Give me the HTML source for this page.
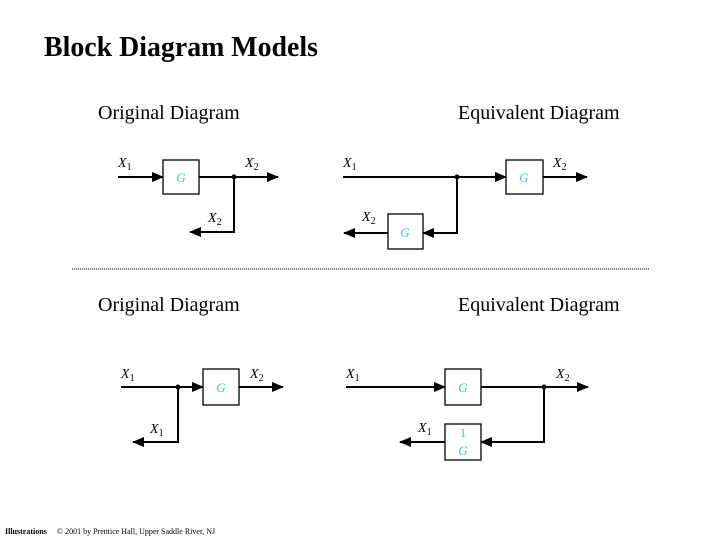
<!DOCTYPE html>
<html><head><style>
body{margin:0;background:#fff;}
svg{display:block;}
text{font-family:"Liberation Serif",serif;}
.l{font-style:italic;font-size:14px;fill:#000;}
.s{font-size:10px;font-style:normal;}
.g{font-style:italic;font-size:13px;fill:#33cccc;}
</style></head><body>
<svg width="720" height="540" viewBox="0 0 720 540" xmlns="http://www.w3.org/2000/svg">
<defs><marker id="a" markerWidth="12" markerHeight="10" refX="11" refY="5" orient="auto" markerUnits="userSpaceOnUse"><path d="M0,0 L12,5 L0,10 z" fill="#000"/></marker></defs>
<text x="44" y="56" font-size="28" font-weight="bold" textLength="274" lengthAdjust="spacingAndGlyphs">Block Diagram Models</text>
<text x="98" y="119" font-size="20">Original Diagram</text>
<text x="458" y="119" font-size="20">Equivalent Diagram</text>
<text x="98" y="311" font-size="20">Original Diagram</text>
<text x="458" y="311" font-size="20">Equivalent Diagram</text>
<line x1="72" y1="269" x2="650" y2="269" stroke="#000" stroke-width="1" stroke-dasharray="1,1"/>
<g stroke="#000" stroke-width="2" fill="none">
<line x1="118" y1="177" x2="163" y2="177" marker-end="url(#a)"/>
<line x1="199" y1="177" x2="278" y2="177" marker-end="url(#a)"/>
<polyline points="234,177 234,232 190,232" marker-end="url(#a)"/>
<line x1="343" y1="177" x2="506" y2="177" marker-end="url(#a)"/>
<line x1="543" y1="177" x2="587" y2="177" marker-end="url(#a)"/>
<polyline points="457,177 457,233 423,233" marker-end="url(#a)"/>
<line x1="388" y1="233" x2="344" y2="233" marker-end="url(#a)"/>
<line x1="121" y1="387" x2="203" y2="387" marker-end="url(#a)"/>
<line x1="239" y1="387" x2="283" y2="387" marker-end="url(#a)"/>
<polyline points="178,387 178,442 133,442" marker-end="url(#a)"/>
<line x1="346" y1="387" x2="445" y2="387" marker-end="url(#a)"/>
<line x1="481" y1="387" x2="588" y2="387" marker-end="url(#a)"/>
<polyline points="544,387 544,442 481,442" marker-end="url(#a)"/>
<line x1="445" y1="442" x2="400" y2="442" marker-end="url(#a)"/>
</g>
<g stroke="#000" stroke-width="1.3" fill="#fff">
<rect x="163" y="160" width="36" height="34"/>
<rect x="506" y="160" width="37" height="34"/>
<rect x="388" y="214" width="35" height="35"/>
<rect x="203" y="369" width="36" height="36"/>
<rect x="445" y="369" width="36" height="36"/>
<rect x="445" y="424" width="36" height="36"/>
</g>
<g fill="#000"><circle cx="234" cy="177" r="2.5"/><circle cx="457" cy="177" r="2.5"/><circle cx="178" cy="387" r="2.5"/><circle cx="544" cy="387" r="2.5"/></g>
<g class="g" text-anchor="middle">
<text x="181" y="182">G</text><text x="524" y="182">G</text><text x="405" y="237">G</text>
<text x="221" y="392">G</text><text x="463" y="392">G</text>
<text x="463" y="437" style="font-style:normal">1</text><text x="463" y="455">G</text>
</g>
<g class="l">
<text x="118" y="167">X<tspan class="s" dy="3">1</tspan></text>
<text x="245" y="167">X<tspan class="s" dy="3">2</tspan></text>
<text x="208" y="222">X<tspan class="s" dy="3">2</tspan></text>
<text x="343" y="167">X<tspan class="s" dy="3">1</tspan></text>
<text x="553" y="167">X<tspan class="s" dy="3">2</tspan></text>
<text x="362" y="221">X<tspan class="s" dy="3">2</tspan></text>
<text x="121" y="378">X<tspan class="s" dy="3">1</tspan></text>
<text x="250" y="378">X<tspan class="s" dy="3">2</tspan></text>
<text x="150" y="433">X<tspan class="s" dy="3">1</tspan></text>
<text x="346" y="378">X<tspan class="s" dy="3">1</tspan></text>
<text x="556" y="378">X<tspan class="s" dy="3">2</tspan></text>
<text x="418" y="432">X<tspan class="s" dy="3">1</tspan></text>
</g>
<text x="5" y="534" font-size="8" font-weight="bold">Illustrations</text>
<text x="57" y="534" font-size="8">© 2001 by Prentice Hall, Upper Saddle River, NJ</text>
</svg>
</body></html>
